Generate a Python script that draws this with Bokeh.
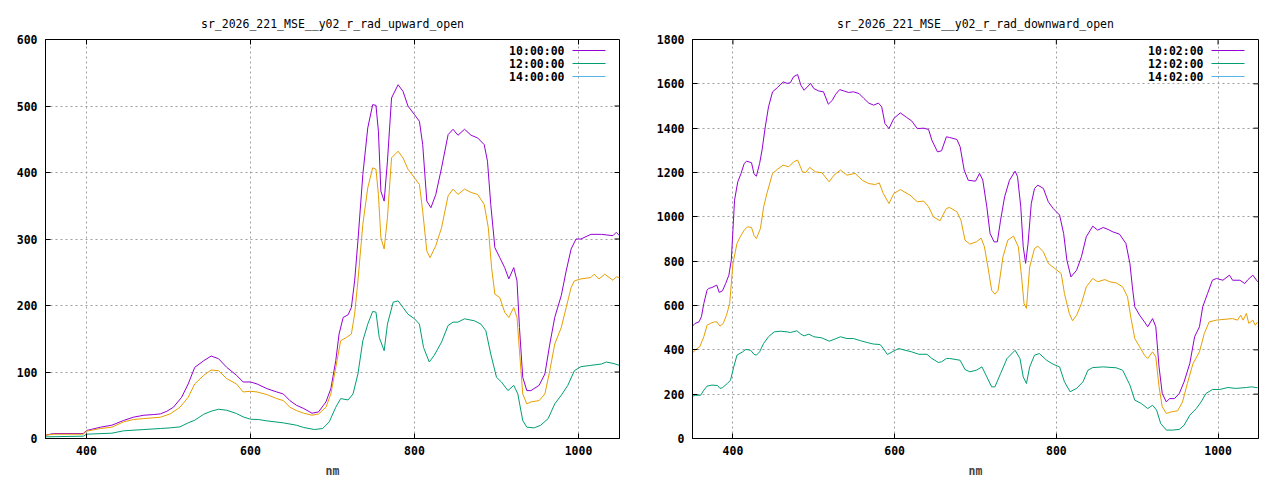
from bokeh.plotting import figure
from bokeh.models import FixedTicker, Label, Range1d
from bokeh.layouts import row
from bokeh.embed import file_html
from bokeh.resources import INLINE

# ---------------- data: upward (left panel) ----------------
UP_TITLE = "sr_2026_221_MSE__y02_r_rad_upward_open"
UP_LABELS = ["10:00:00", "12:00:00", "14:00:00"]
UP_YTICKS = [0, 100, 200, 300, 400, 500, 600]

UP_10_X = [350, 360, 396, 400, 417, 431, 445, 457, 470, 482,
           490, 498, 506, 516, 524, 532, 543, 552, 561, 571,
           583, 591, 600, 608, 620, 632, 640, 648, 656, 665,
           675, 683, 689, 692, 698, 704, 708, 713, 719, 723,
           727, 731, 737, 743, 749, 753, 756, 759, 763, 767,
           772, 780, 786, 792, 800, 806, 810, 815, 820, 826,
           833, 841, 847, 853, 861, 869, 877, 885, 889, 893,
           898, 904, 910, 915, 921, 925, 928, 932, 937, 942,
           952, 959, 965, 971, 979, 985, 991, 997, 1003, 1015,
           1028, 1042, 1046, 1050]
UP_10_Y = [5, 7.5, 7.5, 12, 17, 20, 27, 32, 35, 36,
           37, 41, 47, 62, 82, 107, 117, 124, 120, 107,
           95, 85, 85, 82, 75, 70, 67, 57, 50, 45,
           38, 40, 50, 55, 75, 117, 157, 182, 186, 197,
           237, 297, 397, 467, 502, 501, 462, 372, 357, 417,
           512, 532, 522, 500, 487, 477, 442, 357, 347, 367,
           407, 457, 465, 456, 465, 456, 452, 442, 417, 352,
           287, 272, 257, 240, 257, 237, 167, 92, 72, 72,
           80, 97, 142, 182, 215, 252, 285, 300, 300, 307,
           307, 305, 310, 305]

UP_12_X = [350, 360, 396, 400, 417, 431, 445, 457, 470,
           490, 502, 514, 524, 532, 543, 552, 561, 571, 583,
           591, 600, 608, 620, 632, 640, 648, 656, 665, 675,
           683, 692, 698, 704, 710, 717, 723, 727, 731,
           737, 743, 749, 753, 756, 759, 763, 767, 772, 780,
           786, 792, 800, 806, 810, 815, 819, 826, 833, 841,
           847, 853, 861, 869, 877, 885, 890, 894, 898, 904,
           910, 915, 921, 925, 928, 932, 937, 942, 952, 959,
           965, 971, 979, 985, 991, 995, 1003, 1015, 1019, 1025,
           1032, 1042, 1046, 1050]
UP_12_Y = [5, 6.5, 6.5, 11, 15, 17, 25, 28.5, 30,
           32, 37, 47, 62, 82, 95, 103, 102, 90, 82,
           70, 71, 70, 66, 60, 57, 47, 42, 38, 35,
           37, 47, 67, 107, 147, 152, 157, 187, 237,
           322, 377, 407, 405, 367, 302, 285, 332, 422, 432,
           422, 405, 392, 382, 342, 282, 272, 290, 317, 365,
           375, 367, 375, 370, 367, 352, 317, 257, 217, 212,
           190, 182, 197, 182, 132, 67, 52, 55, 57, 67,
           102, 142, 167, 197, 227, 237, 240, 242, 247, 240,
           247, 238, 243, 242]

UP_14_X = [350, 396, 400, 431, 445, 470, 490, 502, 514, 524,
           532, 543, 552, 561, 571, 583, 591, 600, 610, 620,
           640, 656, 665, 678, 688, 696, 704, 710, 719, 725,
           731, 737, 743, 749, 753, 757, 763, 767, 774, 780,
           786, 792, 800, 806, 811, 818, 824, 833, 841, 847,
           853, 861, 873, 881, 887, 893, 900, 906, 914, 921,
           926, 932, 937, 946, 954, 963, 971, 979, 987, 995,
           1003, 1015, 1028, 1034, 1042, 1050]
UP_14_Y = [2.5, 3.5, 6.5, 8, 11.5, 13.5, 15, 16, 17.5, 23.5,
           27.5, 36.5, 41, 44, 42.5, 37.5, 32.5, 29, 28.5, 26.5,
           23.5, 20, 16.5, 13.5, 15, 25, 47, 60, 58, 67,
           97, 147, 172, 191, 190, 152, 132, 172, 205, 207,
           197, 187, 180, 172, 137, 115, 125, 145, 170, 175,
           175, 180, 177, 172, 162, 127, 92, 85, 72, 80,
           67, 27, 17, 16, 20, 30, 52, 65, 80, 102,
           108, 110, 112, 115, 113, 110]

# ---------------- data: downward (right panel) ----------------
DN_TITLE = "sr_2026_221_MSE__y02_r_rad_downward_open"
DN_LABELS = ["10:02:00", "12:02:00", "14:02:00"]
DN_YTICKS = [0, 200, 400, 600, 800, 1000, 1200, 1400, 1600, 1800]

DN_10_X = [350, 353, 358, 361, 364, 368, 370, 374, 380, 383,
           387, 391, 395, 398, 400, 402, 406, 410, 414, 417,
           423, 426, 429, 433, 436, 440, 444, 449, 455, 462,
           467, 471, 475, 480, 484, 488, 492, 496, 500, 506,
           512, 518, 523, 527, 532, 538, 543, 549, 556, 562,
           568, 574, 580, 584, 588, 593, 599, 607, 615, 621,
           628, 636, 642, 646, 653, 658, 664, 668, 677, 681,
           686, 691, 700, 705, 709, 714, 718, 723, 727, 731,
           736, 742, 749, 752, 756, 759, 762, 765, 769, 773,
           777, 784, 790, 796, 804, 809, 813, 818, 825, 831,
           837, 845, 851, 858, 864, 870, 878, 886, 891, 894,
           897, 903, 909, 913, 919, 923, 927, 931, 936, 940,
           946, 952, 958, 965, 971, 977, 981, 987, 993, 998,
           1006, 1014, 1018, 1027, 1033, 1037, 1043, 1049]
DN_10_Y = [507, 519, 526, 549, 609, 669, 677, 681, 692, 659,
           666, 699, 737, 805, 940, 1075, 1158, 1195, 1241, 1251,
           1244, 1195, 1183, 1241, 1301, 1406, 1496, 1564, 1583, 1609,
           1602, 1605, 1632, 1642, 1594, 1571, 1586, 1602, 1579, 1568,
           1564, 1508, 1526, 1553, 1574, 1567, 1561, 1564, 1556, 1534,
           1513, 1504, 1513, 1496, 1421, 1398, 1444, 1469, 1448, 1433,
           1398, 1400, 1394, 1346, 1293, 1298, 1361, 1358, 1349, 1316,
           1211, 1165, 1161, 1196, 1166, 1045, 925, 887, 887, 985,
           1090, 1165, 1206, 1181, 1045, 865, 790, 880, 1060, 1128,
           1143, 1128, 1068, 1038, 1008, 925, 805, 729, 759, 820,
           910, 958, 940, 952, 943, 932, 922, 880, 789, 684,
           594, 556, 526, 504, 541, 504, 323, 203, 165, 180,
           180, 203, 256, 338, 459, 504, 594, 654, 714, 722,
           714, 737, 714, 714, 699, 717, 737, 707]

DN_12_X = [350, 354, 359, 364, 368, 372, 377, 380, 384, 388,
           392, 396, 400, 405, 409, 414, 418, 423, 426, 429,
           434, 438, 442, 449, 455, 462, 469, 475, 480, 486,
           490, 495, 502, 510, 519, 525, 533, 541, 551, 560,
           568, 576, 581, 586, 593, 599, 607, 619, 628, 636,
           642, 648, 656, 664, 668, 677, 682, 687, 693, 701,
           707, 711, 716, 720, 724, 728, 734, 740, 747, 753,
           757, 760, 763, 767, 773, 777, 784, 790, 798, 806,
           810, 816, 820, 825, 831, 837, 845, 851, 860, 866,
           874, 882, 888, 892, 897, 903, 909, 913, 919, 923,
           927, 931, 936, 942, 950, 956, 962, 969, 977, 983,
           989, 998, 1006, 1018, 1024, 1028, 1031, 1035, 1038, 1043,
           1046, 1049]
DN_12_Y = [386, 401, 414, 459, 511, 519, 526, 526, 507, 519,
           556, 609, 789, 880, 910, 940, 955, 952, 917, 902,
           947, 1045, 1105, 1196, 1214, 1233, 1226, 1248, 1256, 1203,
           1200, 1223, 1203, 1199, 1158, 1188, 1211, 1188, 1196, 1165,
           1150, 1146, 1153, 1105, 1060, 1105, 1123, 1098, 1068, 1071,
           1045, 1000, 982, 1038, 1042, 1023, 985, 895, 877, 887,
           904, 865, 760, 669, 651, 669, 820, 895, 913, 865,
           729, 609, 587, 774, 857, 868, 842, 790, 767, 744,
           654, 564, 531, 556, 609, 684, 722, 707, 717, 707,
           702, 684, 639, 549, 451, 414, 376, 361, 391, 368,
           233, 143, 113, 120, 125, 165, 248, 338, 391, 474,
           526, 534, 537, 541, 534, 556, 534, 564, 519, 534,
           511, 526]

DN_14_X = [350, 354, 360, 364, 368, 374, 381, 384, 387, 393,
           397, 401, 405, 412, 416, 422, 426, 429, 433, 438,
           444, 451, 459, 467, 471, 479, 484, 488, 494, 500,
           510, 519, 525, 533, 541, 549, 558, 566, 574, 582,
           586, 591, 597, 605, 613, 621, 630, 640, 646, 654,
           658, 664, 668, 681, 687, 693, 701, 708, 714, 720,
           724, 731, 739, 749, 755, 759, 763, 767, 773, 779,
           788, 796, 804, 810, 817, 825, 833, 839, 845, 858,
           874, 882, 891, 897, 905, 913, 919, 924, 929, 936,
           944, 952, 958, 965, 973, 979, 985, 993, 1002, 1012,
           1022, 1035, 1041, 1049]
DN_14_Y = [191, 195, 195, 218, 236, 241, 239, 226, 229, 248,
           263, 323, 376, 391, 402, 398, 380, 376, 391, 429,
           459, 481, 484, 481, 478, 486, 471, 463, 471, 459,
           454, 439, 447, 459, 451, 451, 441, 433, 426, 424,
           406, 379, 391, 406, 398, 391, 380, 380, 361, 343,
           346, 361, 361, 353, 311, 301, 308, 323, 278, 233,
           233, 293, 361, 398, 361, 278, 248, 323, 376, 383,
           353, 335, 323, 256, 211, 226, 256, 308, 320, 323,
           319, 308, 241, 173, 158, 135, 150, 128, 68, 38,
           38, 41, 60, 105, 135, 165, 203, 221, 221, 230,
           226, 230, 233, 229]

X_TICKS = [400, 600, 800, 1000]
X_MIN, X_MAX = 350, 1050

LINE_COLORS = ["#9400d3", "#e69f00", "#009e73"]
LEGEND_COLORS = ["#9400d3", "#009e73", "#56b4e9"]

FONT = "DejaVu Sans Mono"
FS = "11.5px"
TICK_LEN = 5


def style_axis(ax):
    ax.axis_line_color = "black"
    ax.axis_line_width = 1
    ax.major_tick_in = TICK_LEN
    ax.major_tick_out = 0
    ax.major_tick_line_color = "black"
    ax.minor_tick_line_color = None
    ax.major_label_text_font = FONT
    ax.major_label_text_font_style = "bold"
    ax.major_label_text_color = "black"
    ax.major_label_text_font_size = FS
    ax.major_label_standoff = 7


def make_panel(title, yticks, series, labels, W, bl, br):
    H = 480
    BT, BB = 39, 42
    fw = W - bl - br
    fh = H - BT - BB
    ymin, ymax = yticks[0], yticks[-1]
    p = figure(width=W, height=H, output_backend="svg", toolbar_location=None,
               x_range=Range1d(X_MIN, X_MAX), y_range=Range1d(ymin, ymax),
               min_border_left=bl, min_border_right=br,
               min_border_top=BT, min_border_bottom=BB,
               title=title)
    p.title.align = "center"
    p.title.text_font = FONT
    p.title.text_font_size = FS
    p.title.text_font_style = "normal"
    p.title.text_color = "black"
    p.title.standoff = 18
    p.background_fill_color = "white"
    p.border_fill_color = "white"
    p.outline_line_color = "black"
    p.outline_line_width = 1

    xt = FixedTicker(ticks=X_TICKS)
    yt = FixedTicker(ticks=yticks)
    p.xaxis.ticker = xt
    p.yaxis.ticker = yt
    for ax in p.xaxis:
        style_axis(ax)
        ax.axis_label = "nm"
        ax.axis_label_text_font = FONT
        ax.axis_label_text_font_size = FS
        ax.axis_label_text_font_style = "bold"
        ax.axis_label_standoff = 6
    for ax in p.yaxis:
        style_axis(ax)
        ax.major_label_standoff = 8

    p.xgrid.ticker = xt
    p.ygrid.ticker = yt
    for g in (p.xgrid, p.ygrid):
        g.grid_line_color = "#a0a0a0"
        g.grid_line_dash = "2 3"
        g.grid_line_width = 1

    # pixel -> data conversion factors for frame-anchored decorations
    dxpp = (X_MAX - X_MIN) / fw
    dypp = (ymax - ymin) / fh

    # mirrored inward ticks on top and right borders (gnuplot style)
    p.segment(x0=X_TICKS, y0=[ymax] * len(X_TICKS), x1=X_TICKS,
              y1=[ymax - TICK_LEN * dypp] * len(X_TICKS),
              line_color="black", line_width=1)
    inner_y = yticks[1:-1]
    p.segment(x0=[X_MAX] * len(inner_y), y0=inner_y,
              x1=[X_MAX - TICK_LEN * dxpp] * len(inner_y), y1=inner_y,
              line_color="black", line_width=1)

    for (xs, ys), c in zip(series, LINE_COLORS):
        p.line(xs, ys, line_color=c, line_width=1)

    # gnuplot-style key: text right-aligned, then sample line
    for i, (lab, c) in enumerate(zip(labels, LEGEND_COLORS)):
        yy = fh - 11 - 13 * i
        p.add_layout(Label(x=fw - 55, y=yy, x_units="screen", y_units="screen",
                           text=lab, text_align="right", text_baseline="middle",
                           text_font=FONT, text_font_size=FS, text_font_style="bold",
                           text_color="black"))
        yd = ymin + yy * dypp
        p.segment(x0=[X_MIN + (fw - 47) * dxpp], y0=[yd],
                  x1=[X_MIN + (fw - 14) * dxpp], y1=[yd],
                  line_color=c, line_width=1.2)
    return p


left = make_panel(UP_TITLE, UP_YTICKS,
                  [(UP_10_X, UP_10_Y), (UP_12_X, UP_12_Y), (UP_14_X, UP_14_Y)],
                  UP_LABELS, 640, 45, 21)
rightp = make_panel(DN_TITLE, DN_YTICKS,
                    [(DN_10_X, DN_10_Y), (DN_12_X, DN_12_Y), (DN_14_X, DN_14_Y)],
                    DN_LABELS, 632, 52, 14)

layout = row(left, rightp)
open("out.html", "w").write(file_html(layout, INLINE))
